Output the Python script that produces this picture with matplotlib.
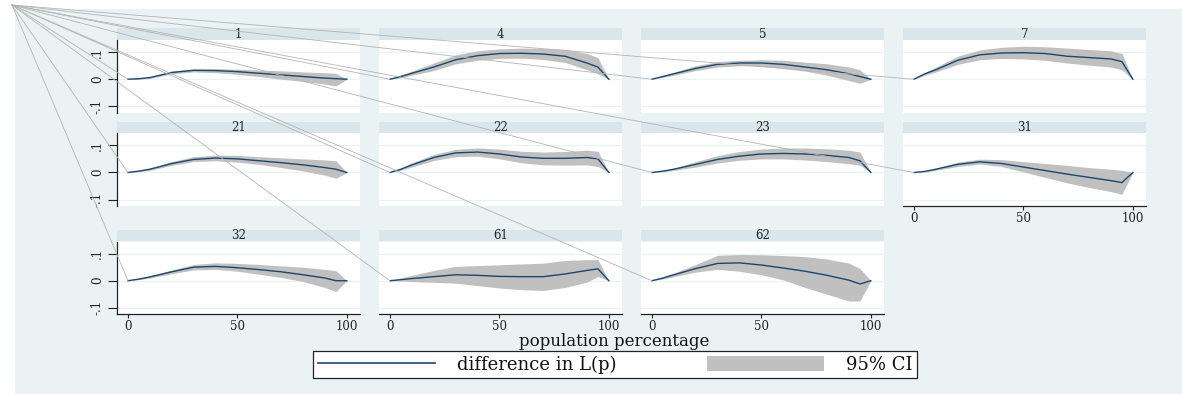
import matplotlib
matplotlib.use("Agg")
import matplotlib.pyplot as plt
from matplotlib.patches import Rectangle, Patch, ConnectionPatch
from matplotlib.lines import Line2D

# --- data (x = population percentage) ---
pct = [0, 5, 10, 20, 30, 40, 50, 60, 70, 80, 90, 95, 100]

diff_g1 = [0, 0.002, 0.006, 0.025, 0.033, 0.032, 0.028, 0.022, 0.016, 0.010, 0.004, 0.002, 0]
lo_g1 = [0, 0.000, 0.003, 0.020, 0.027, 0.024, 0.018, 0.010, 0.000, -0.008, -0.018, -0.025, 0]
hi_g1 = [0, 0.004, 0.009, 0.030, 0.038, 0.039, 0.037, 0.034, 0.031, 0.027, 0.024, 0.022, 0]

diff_g4 = [0, 0.010, 0.022, 0.045, 0.072, 0.087, 0.095, 0.096, 0.093, 0.085, 0.060, 0.045, 0]
lo_g4 = [0, 0.005, 0.015, 0.032, 0.057, 0.070, 0.077, 0.078, 0.073, 0.062, 0.035, 0.020, 0]
hi_g4 = [0, 0.015, 0.030, 0.060, 0.090, 0.105, 0.112, 0.115, 0.114, 0.110, 0.095, 0.080, 0]

diff_g5 = [0, 0.010, 0.020, 0.040, 0.055, 0.060, 0.060, 0.055, 0.045, 0.035, 0.020, 0.010, 0]
lo_g5 = [0, 0.007, 0.015, 0.032, 0.045, 0.050, 0.048, 0.040, 0.030, 0.015, -0.005, -0.015, 0]
hi_g5 = [0, 0.013, 0.026, 0.050, 0.065, 0.070, 0.072, 0.070, 0.063, 0.057, 0.045, 0.035, 0]

diff_g7 = [0, 0.020, 0.035, 0.070, 0.090, 0.097, 0.098, 0.095, 0.085, 0.080, 0.075, 0.065, 0]
lo_g7 = [0, 0.015, 0.027, 0.055, 0.072, 0.077, 0.075, 0.070, 0.060, 0.052, 0.045, 0.035, 0]
hi_g7 = [0, 0.025, 0.045, 0.085, 0.108, 0.118, 0.122, 0.120, 0.115, 0.110, 0.105, 0.095, 0]

diff_g21 = [0, 0.005, 0.012, 0.033, 0.048, 0.053, 0.050, 0.043, 0.036, 0.028, 0.018, 0.012, 0]
lo_g21 = [0, 0.003, 0.008, 0.026, 0.040, 0.043, 0.038, 0.030, 0.018, 0.006, -0.010, -0.021, 0]
hi_g21 = [0, 0.007, 0.016, 0.040, 0.058, 0.064, 0.063, 0.058, 0.054, 0.050, 0.046, 0.043, 0]

diff_g22 = [0, 0.012, 0.028, 0.055, 0.072, 0.075, 0.068, 0.057, 0.052, 0.052, 0.055, 0.050, 0]
lo_g22 = [0, 0.008, 0.020, 0.044, 0.058, 0.060, 0.050, 0.036, 0.028, 0.027, 0.028, 0.022, 0]
hi_g22 = [0, 0.016, 0.035, 0.066, 0.085, 0.090, 0.086, 0.078, 0.075, 0.077, 0.082, 0.078, 0]

diff_g23 = [0, 0.005, 0.012, 0.030, 0.048, 0.060, 0.068, 0.070, 0.068, 0.063, 0.055, 0.043, 0]
lo_g23 = [0, 0.003, 0.008, 0.020, 0.035, 0.045, 0.050, 0.050, 0.046, 0.040, 0.032, 0.027, 0]
hi_g23 = [0, 0.007, 0.016, 0.040, 0.062, 0.077, 0.086, 0.090, 0.090, 0.087, 0.082, 0.075, 0]

diff_g31 = [0, 0.004, 0.012, 0.030, 0.039, 0.033, 0.020, 0.007, -0.006, -0.018, -0.030, -0.037, 0]
lo_g31 = [0, 0.002, 0.008, 0.022, 0.031, 0.022, 0.002, -0.018, -0.038, -0.055, -0.070, -0.080, 0]
hi_g31 = [0, 0.006, 0.016, 0.038, 0.049, 0.047, 0.040, 0.033, 0.026, 0.018, 0.012, 0.008, 0]

diff_g32 = [0, 0.006, 0.014, 0.033, 0.050, 0.053, 0.048, 0.041, 0.033, 0.022, 0.010, 0.000, 0]
lo_g32 = [0, 0.004, 0.010, 0.026, 0.040, 0.042, 0.035, 0.024, 0.012, -0.003, -0.025, -0.040, 0]
hi_g32 = [0, 0.008, 0.018, 0.040, 0.060, 0.066, 0.064, 0.060, 0.055, 0.050, 0.042, 0.037, 0]

diff_g61 = [0, 0.004, 0.008, 0.015, 0.022, 0.020, 0.016, 0.015, 0.015, 0.025, 0.038, 0.044, 0]
lo_g61 = [0, -0.001, -0.003, -0.006, -0.009, -0.018, -0.027, -0.033, -0.036, -0.025, -0.005, 0.016, 0]
hi_g61 = [0, 0.010, 0.020, 0.038, 0.053, 0.056, 0.059, 0.062, 0.065, 0.075, 0.078, 0.078, 0]

diff_g62 = [0, 0.010, 0.022, 0.045, 0.064, 0.066, 0.058, 0.047, 0.035, 0.020, 0.002, -0.012, 0]
lo_g62 = [0, 0.006, 0.015, 0.032, 0.042, 0.035, 0.022, 0.003, -0.025, -0.050, -0.075, -0.075, 0]
hi_g62 = [0, 0.014, 0.028, 0.060, 0.094, 0.097, 0.096, 0.093, 0.089, 0.080, 0.065, 0.045, 0]

panels = [
    ("1", diff_g1, lo_g1, hi_g1), ("4", diff_g4, lo_g4, hi_g4),
    ("5", diff_g5, lo_g5, hi_g5), ("7", diff_g7, lo_g7, hi_g7),
    ("21", diff_g21, lo_g21, hi_g21), ("22", diff_g22, lo_g22, hi_g22),
    ("23", diff_g23, lo_g23, hi_g23), ("31", diff_g31, lo_g31, hi_g31),
    ("32", diff_g32, lo_g32, hi_g32), ("61", diff_g61, lo_g61, hi_g61),
    ("62", diff_g62, lo_g62, hi_g62),
]

yticks = [-0.1, 0, 0.1]
ytick_labels = ["-.1", "0", ".1"]
xticks = [0, 50, 100]

# --- style ---
W, H = 1182, 394
BG = "#eaf2f3"
STRIP = "#d9e6eb"
NAVY = "#1a476f"
BAND = "#c0c0c0"
plt.rcParams["font.family"] = ["DejaVu Serif"]


def px_rect(left, top, w, h):
    return [left / W, 1 - (top + h) / H, w / W, h / H]


fig = plt.figure(figsize=(W / 100, H / 100), dpi=100)
fig.patch.set_facecolor("white")
fig.add_artist(Rectangle((15 / W, 0), 1 - 15 / W, 1 - 9 / H,
                         transform=fig.transFigure, facecolor=BG,
                         edgecolor="none", zorder=-10))

col_left = [117, 379, 641, 903]
col_w = 243
row_top = [40, 133, 241.5]
row_h = [72.5, 73, 72.5]
strip_h = 11.5

axes = []
for i, (name, diff, lo, hi) in enumerate(panels):
    r, c = divmod(i, 4)
    ax = fig.add_axes(px_rect(col_left[c], row_top[r], col_w, row_h[r]))
    ax.set_facecolor("white")
    ax.fill_between(pct, lo, hi, color=BAND, lw=0, zorder=2)
    ax.plot(pct, diff, color=NAVY, lw=1.0, zorder=3)
    ax.set_xlim(-5, 106)
    ax.set_ylim(-0.123, 0.145)
    ax.set_yticks(yticks)
    ax.set_yticklabels(ytick_labels)
    ax.set_xticks(xticks)
    ax.yaxis.grid(True, color=BG, lw=0.9, zorder=0)
    ax.set_axisbelow(True)
    for s in ax.spines.values():
        s.set_visible(False)

    show_x = (r == 2) or (name == "31")
    if show_x:
        ax.spines["bottom"].set_visible(True)
        ax.spines["bottom"].set_color("#222222")
        ax.spines["bottom"].set_linewidth(0.9)
        ax.tick_params(axis="x", length=3, width=0.8, pad=1.5,
                       labelsize=8.5, colors="#222222")
    else:
        ax.tick_params(axis="x", bottom=False, labelbottom=False)

    if c == 0:
        ax.spines["left"].set_visible(True)
        ax.spines["left"].set_color("#222222")
        ax.spines["left"].set_linewidth(0.9)
        ax.tick_params(axis="y", length=6.5, width=0.8, pad=3,
                       labelsize=8.5, colors="#222222")
        for lab in ax.get_yticklabels():
            lab.set_rotation(90)
            lab.set_va("center")
    else:
        ax.tick_params(axis="y", left=False, labelleft=False)

    # facet strip
    sh = strip_h / row_h[r]
    ax.add_patch(Rectangle((0, 1), 1, sh, transform=ax.transAxes,
                           facecolor=STRIP, edgecolor="none", clip_on=False))
    ax.text(0.5, 1 + sh / 2, name, transform=ax.transAxes, ha="center",
            va="center", fontsize=8.5, color="#222222")
    axes.append(ax)

# stray connector lines from the top-left corner to each panel's origin
for ax in axes:
    con = ConnectionPatch(xyA=(12 / W, 1 - 5 / H), coordsA=fig.transFigure,
                          xyB=(0, 0), coordsB=ax.transData,
                          color="#b4b4b4", lw=0.6, zorder=20)
    fig.add_artist(con)

fig.text(614 / W, 1 - 341 / H, "population percentage", ha="center",
         va="center", fontsize=12, color="#111111")

handles = [Line2D([], [], color=NAVY, lw=1.2),
           Patch(facecolor=BAND, edgecolor="none")]
leg = fig.legend(handles, ["difference in L(p)", "95% CI"], ncol=2,
                 loc="center", bbox_to_anchor=(615 / W, 1 - 364.5 / H),
                 frameon=True, fancybox=False, fontsize=13, framealpha=1,
                 handlelength=6.5, handleheight=0.85, handletextpad=1.2,
                 borderpad=0.25, borderaxespad=0, columnspacing=5.0)
leg.get_frame().set_facecolor("white")
leg.get_frame().set_edgecolor("#222222")
leg.get_frame().set_linewidth(0.9)
for t in leg.get_texts():
    t.set_color("#111111")

fig.savefig("out.png", dpi=100)
